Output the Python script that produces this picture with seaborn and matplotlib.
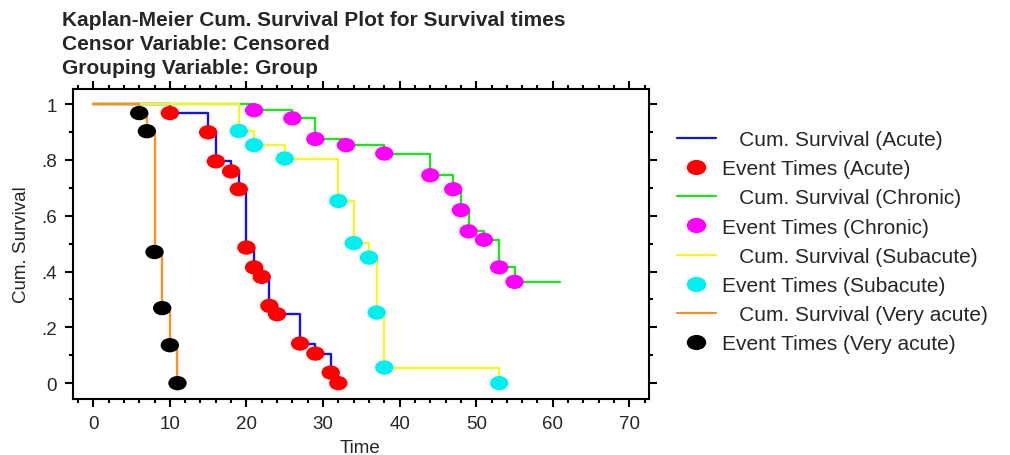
import pandas as pd
import matplotlib
matplotlib.use("Agg")
import matplotlib.pyplot as plt
import seaborn as sns
from matplotlib.lines import Line2D
from matplotlib.path import Path
from matplotlib.ticker import MultipleLocator

# Kaplan-Meier estimates: event times and survival after each event
groups = ["Acute", "Chronic", "Subacute", "Very acute"]

acute_t = [10, 15, 16, 18, 19, 20, 21, 22, 23, 24, 27, 29, 31, 32]
acute_s = [0.968, 0.899, 0.795, 0.759, 0.695, 0.486, 0.415, 0.381, 0.277, 0.247, 0.142, 0.106, 0.038, 0.0]

chronic_t = [21, 26, 29, 33, 38, 44, 47, 48, 49, 51, 53, 55]
chronic_s = [0.978, 0.949, 0.875, 0.853, 0.823, 0.745, 0.695, 0.620, 0.544, 0.514, 0.415, 0.363]
chronic_last = 61  # last follow-up time (censored)

subacute_t = [19, 21, 25, 32, 34, 36, 37, 38, 53]
subacute_s = [0.904, 0.853, 0.805, 0.653, 0.502, 0.450, 0.253, 0.056, 0.0]

very_t = [6, 7, 8, 9, 10, 11]
very_s = [0.968, 0.903, 0.470, 0.269, 0.136, 0.0]

xticks = [0, 10, 20, 30, 40, 50, 60, 70]
yticks = [0, 0.2, 0.4, 0.6, 0.8, 1.0]
ytick_labels = ["0", ".2", ".4", ".6", ".8", "1"]

title_lines = ["Kaplan-Meier Cum. Survival Plot for Survival times",
               "Censor Variable: Censored",
               "Grouping Variable: Group"]

line_colors = {"Acute": "#1414e6", "Chronic": "#22e022", "Subacute": "#f5f52a", "Very acute": "#f5922a"}
dot_colors = {"Acute": "#ff0000", "Chronic": "#ff00ff", "Subacute": "#00f0f0", "Very acute": "#000000"}

# build step-curve table (start at t=0, S=1) and event table
events = {"Acute": (acute_t, acute_s), "Chronic": (chronic_t, chronic_s),
          "Subacute": (subacute_t, subacute_s), "Very acute": (very_t, very_s)}
curve_rows, event_rows = [], []
for g in groups:
    t, s = events[g]
    curve_rows.append((g, 0, 1.0))
    for ti, si in zip(t, s):
        curve_rows.append((g, ti, si))
        event_rows.append((g, ti, si))
    if g == "Chronic":
        curve_rows.append((g, chronic_last, s[-1]))
curves = pd.DataFrame(curve_rows, columns=["Group", "Time", "Surv"])
ev = pd.DataFrame(event_rows, columns=["Group", "Time", "Surv"])

# slightly flattened dot, like the original
circ = Path.unit_circle()
oval = Path(circ.vertices * [1.0, 0.78], circ.codes)

sns.set_style("ticks")
plt.rcParams["font.family"] = ["Liberation Sans", "DejaVu Sans"]

fig = plt.figure(figsize=(10.1, 4.56), dpi=100)
ax = fig.add_axes([0.0726, 0.1239, 0.5703, 0.6798])

for g in groups:
    sns.lineplot(data=curves[curves.Group == g], x="Time", y="Surv", color=line_colors[g],
                 estimator=None, sort=False, drawstyle="steps-post", linewidth=1.7, ax=ax)
for g in groups:
    sns.scatterplot(data=ev[ev.Group == g], x="Time", y="Surv", color=dot_colors[g],
                    marker=oval, s=175, edgecolor="none", ax=ax, zorder=3)

ax.set_xlim(-2.6, 72.6)
ax.set_ylim(-0.055, 1.056)
ax.set_xticks(xticks)
ax.set_yticks(yticks)
ax.set_yticklabels(ytick_labels)
ax.xaxis.set_minor_locator(MultipleLocator(2))
ax.yaxis.set_minor_locator(MultipleLocator(0.1))
ax.tick_params(which="both", direction="out", top=True, right=True, width=1.5,
               labeltop=False, labelright=False, labelsize=13.5, color="black")
ax.tick_params(which="major", length=6, pad=6)
ax.tick_params(which="minor", length=3)
for sp in ax.spines.values():
    sp.set_linewidth(1.5)
    sp.set_color("black")

ax.set_xlabel("Time", fontsize=13.5)
ax.set_ylabel("Cum. Survival", fontsize=13.5)
ax.xaxis.set_label_coords(0.498, -0.132)
ax.yaxis.set_label_coords(-0.076, 0.5)

for i, line in enumerate(title_lines):
    fig.text(62 / 1010, 1 - (20 + 24.5 * i) / 456, line, fontsize=15, fontweight="bold", va="center")

handles, labels = [], []
for g in groups:
    handles.append(Line2D([], [], color=line_colors[g], lw=1.6))
    labels.append(f"   Cum. Survival ({g})")
    handles.append(Line2D([], [], color=dot_colors[g], marker=oval, ls="", markersize=14, markeredgewidth=0))
    labels.append(f"Event Times ({g})")
fig.legend(handles, labels, loc="upper left", bbox_to_anchor=(677 / 1010, 1 - 131 / 456),
           frameon=False, fontsize=15, handlelength=1.85, handletextpad=0.3,
           borderpad=0, borderaxespad=0, labelspacing=0.49)

fig.savefig("out.png", dpi=100)
